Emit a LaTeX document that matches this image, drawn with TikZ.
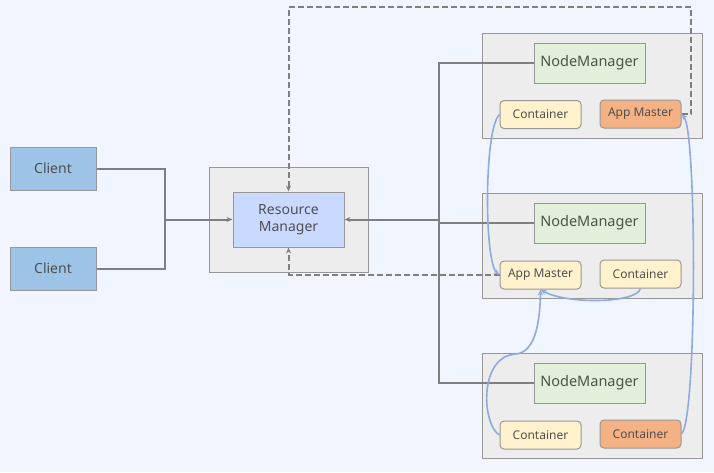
\documentclass[tikz,border=0pt]{standalone}
\usepackage{fontspec}
\setmainfont{Noto Sans}
\usetikzlibrary{arrows.meta}
\definecolor{bgc}{HTML}{F0F5FF}
\definecolor{txt}{HTML}{505050}
\definecolor{lnc}{HTML}{7F7F7F}
\definecolor{bdc}{HTML}{979797}
\definecolor{clientc}{HTML}{9DC3E6}
\definecolor{rmc}{HTML}{C9D9FF}
\definecolor{outc}{HTML}{EDEDED}
\definecolor{nmc}{HTML}{E2EFDA}
\definecolor{contc}{HTML}{FFF2CC}
\definecolor{amc}{HTML}{F4B183}
\definecolor{bluec}{HTML}{8FAADC}
\tikzset{
  basebox/.style={draw=bdc, line width=1pt, inner sep=0pt, text=txt, align=center},
  clientbox/.style={basebox, fill=clientc, minimum width=86pt, minimum height=43pt, font=\fontsize{14}{16}\selectfont},
  outerbox/.style={basebox, fill=outc, minimum width=220pt, minimum height=105pt},
  rmouter/.style={basebox, fill=outc, minimum width=159pt, minimum height=105pt},
  rmbox/.style={basebox, fill=rmc, minimum width=111pt, minimum height=55pt, font=\fontsize{14}{17}\selectfont},
  nmbox/.style={basebox, fill=nmc, minimum width=111pt, minimum height=40pt, font=\fontsize{14.5}{16}\selectfont},
  smallbox/.style={basebox, rounded corners=4pt, minimum width=81pt, minimum height=28pt, font=\fontsize{12}{14}\selectfont},
  contbox/.style={smallbox, fill=contc},
  ambox/.style={smallbox, fill=amc},
  gline/.style={draw=lnc, line width=2pt},
  dline/.style={draw=lnc, line width=2pt, dash pattern=on 6pt off 3pt},
  bline/.style={draw=bluec, line width=1.6pt},
  tip/.style={-{Stealth[length=6pt,width=5pt]}}
}
\begin{document}
\begin{tikzpicture}[x=1pt,y=-1pt]
\fill[bgc] (0,0) rectangle (714,472);
\useasboundingbox (0,0) rectangle (714,472);

% outer boxes
\node[rmouter] (rmo) at (288.5,219.5) {};
\node[outerbox] (box1) at (592,85.5) {};
\node[outerbox] (box2) at (592,245.5) {};
\node[outerbox] (box3) at (592,405.5) {};

% clients
\node[clientbox] (c1) at (53,168.5) {Client};
\node[clientbox] (c2) at (53,268.5) {Client};

% resource manager
\node[rmbox] (rm) at (288.5,219.5) {Resource\\Manager};

% node managers
\node[nmbox] (nm1) at (589.5,63) {NodeManager};
\node[nmbox] (nm2) at (589.5,223) {NodeManager};
\node[nmbox] (nm3) at (589.5,383) {NodeManager};

% containers
\node[contbox] (c1a) at (540.5,114.5) {Container};
\node[ambox]   (am1) at (640.5,114) {App Master};
\node[contbox] (am2) at (540.5,275) {App Master};
\node[contbox] (c2b) at (640.5,274) {Container};
\node[contbox] (c3a) at (540.5,435) {Container};
\node[ambox]   (c3b) at (640.5,434) {Container};

% junctions
\coordinate (j1) at (165,219.5);
\coordinate (j2) at (439,219.5);
\coordinate (top) at (691,7);

% client connectors
\draw[gline] (c1.east) -| (j1);
\draw[gline] (c2.east) -| (j1);
\draw[gline,tip] (j1) -- (rm.west);

% node manager connectors
\draw[gline] (nm1.west) -| (j2) |- (nm3.west);
\draw[gline] (nm2.west) -- (nm2.west -| j2);
\draw[gline,tip] (j2) -- (rm.east);

% dashed
\draw[dline,tip] (am1.east) -| (top) -| (rm.north);
\draw[dline,tip] (am2.west) -| (rm.south);

% blue curves
\draw[bline,tip] (c1a.west) .. controls (484,128) and (484,262) .. (am2.west);
\draw[bline,tip] (c2b.south) .. controls (636,304) and (565,304) .. (am2.south);
\draw[bline,tip] (c3a.west) .. controls (482,425) and (478,356) .. (516,354) .. controls (536,352) and (540,320) .. (am2.south);
\draw[bline,tip] (c3b.east) .. controls (697,420) and (697,132) .. (am1.east);
\end{tikzpicture}
\end{document}
